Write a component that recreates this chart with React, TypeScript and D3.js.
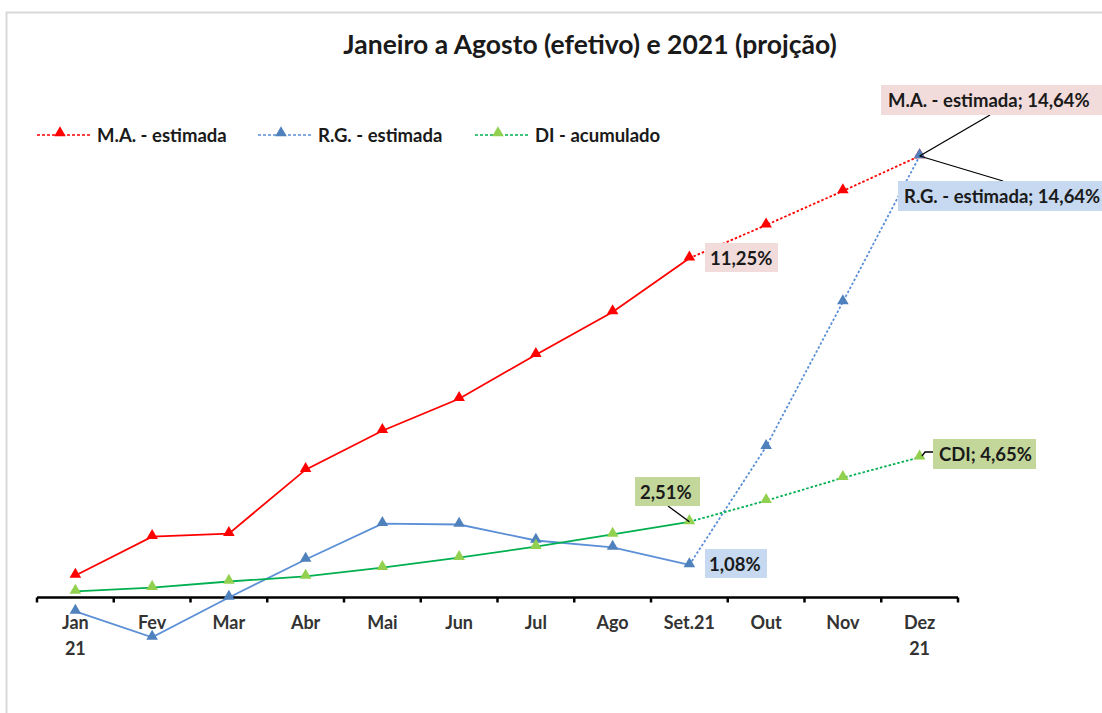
import React from "react";
import * as d3 from "d3";

const months = ["Jan", "Fev", "Mar", "Abr", "Mai", "Jun", "Jul", "Ago", "Set.21", "Out", "Nov", "Dez"];
const monthLine2 = ["21", "", "", "", "", "", "", "", "", "", "", "21"];
const maValues = [0.73, 2.02, 2.12, 4.24, 5.53, 6.59, 8.05, 9.47, 11.25, 12.35, 13.48, 14.64];
const rgValues = [-0.46, -1.32, 0.0, 1.26, 2.45, 2.42, 1.89, 1.66, 1.08, 5.0, 9.8, 14.64];
const diValues = [0.2, 0.33, 0.53, 0.7, 0.99, 1.32, 1.69, 2.09, 2.51, 3.21, 3.97, 4.65];
const actualCount = 9; // Jan..Set.21 solid, then projection dotted
const seriesNames = ["M.A. - estimada", "R.G. - estimada", "DI - acumulado"];
const title = "Janeiro a Agosto (efetivo) e 2021 (projção)";

const FONT = "Lato, 'Open Sans', sans-serif";

export default function App() {
  const W = 1102, H = 713;
  const x = d3.scaleBand<string>().domain(months).range([37, 958]);
  const cx = (i: number) => (x(months[i]) as number) + x.bandwidth() / 2;
  const y = d3.scaleLinear().domain([0, 14.64]).range([597.5, 156]);

  const series = [
    { name: seriesNames[0], values: maValues, line: "#ff0000", marker: "#ff0000" },
    { name: seriesNames[1], values: rgValues, line: "#5b8fd6", marker: "#4f81bd" },
    { name: seriesNames[2], values: diValues, line: "#00b050", marker: "#92d050" },
  ];

  const lineGen = d3.line<[number, number]>().x(d => d[0]).y(d => d[1]);
  const tri = d3.symbol().type(d3.symbolTriangle).size(58)();

  const fmt = (v: number) => v.toFixed(2).replace(".", ",") + "%";

  const pink = "#f2dcdb";
  const blue = "#c6d9f0";
  const green = "#c4d79b";
  const LBL = 18.5;

  const ticks = d3.range(months.length + 1).map(i => 37 + i * x.bandwidth());

  const last = months.length - 1;
  const setI = actualCount - 1;

  return (
    <svg width={W} height={H} style={{ position: "absolute", left: 0, top: 0, background: "#fff" }}>
      <rect x={6.5} y={12.5} width={1110} height={720} fill="#fff" stroke="#d9d9d9" strokeWidth={2} />
      <text x={590} y={54} textAnchor="middle" fontFamily={FONT} fontWeight="bold" fontSize={26.5} fill="#1a1a1a">
        {title}
      </text>

      {/* legend */}
      {series.map((s, i) => {
        const lx = [37, 258, 475][i];
        const tx = [97, 318, 535][i];
        return (
          <g key={s.name}>
            <line x1={lx} x2={lx + 54} y1={135} y2={135} stroke={s.line} strokeWidth={1.5} strokeDasharray="3,2" />
            <path d={tri} transform={`translate(${lx + 23},${133})`} fill={s.marker} />
            <text x={tx} y={141.5} fontFamily={FONT} fontWeight="bold" fontSize={LBL} fill="#1a1a1a">{s.name}</text>
          </g>
        );
      })}

      {/* axis */}
      <line x1={37} x2={958} y1={y(0)} y2={y(0)} stroke="#000" strokeWidth={2.5} />
      {ticks.map((t, i) => (
        <line key={i} x1={t} x2={t} y1={y(0)} y2={y(0) + 5} stroke="#000" strokeWidth={2.5} />
      ))}
      {months.map((m, i) => (
        <text key={m} x={cx(i)} y={629} textAnchor="middle" fontFamily={FONT} fontWeight="bold" fontSize={18} fill="#333">
          <tspan x={cx(i)}>{m}</tspan>
          {monthLine2[i] && <tspan x={cx(i)} dy={26}>{monthLine2[i]}</tspan>}
        </text>
      ))}

      {/* series lines */}
      {series.map(s => {
        const pts: [number, number][] = s.values.map((v, i) => [cx(i), y(v)]);
        return (
          <g key={s.name}>
            <path d={lineGen(pts.slice(0, actualCount)) || ""} fill="none" stroke={s.line} strokeWidth={1.8} />
            <path d={lineGen(pts.slice(actualCount - 1)) || ""} fill="none" stroke={s.line} strokeWidth={1.8} strokeDasharray="2.5,2" />
            {pts.map((p, i) => (
              <path key={i} d={tri} transform={`translate(${p[0]},${p[1] - 1})`} fill={s.marker} />
            ))}
          </g>
        );
      })}

      {/* data labels */}
      {/* M.A. Dez */}
      <line x1={cx(last)} y1={y(maValues[last])} x2={990} y2={115} stroke="#000" strokeWidth={1.3} />
      <rect x={881} y={85} width={222} height={30} fill={pink} />
      <text x={888} y={107} fontFamily={FONT} fontWeight="bold" fontSize={LBL} fill="#1a1a1a">
        {seriesNames[0]}; {fmt(maValues[last])}
      </text>
      {/* R.G. Dez */}
      <line x1={cx(last)} y1={y(rgValues[last])} x2={1003} y2={181} stroke="#000" strokeWidth={1.3} />
      <rect x={898} y={181} width={210} height={30} fill={blue} />
      <text x={904} y={203} fontFamily={FONT} fontWeight="bold" fontSize={LBL} fill="#1a1a1a">
        {seriesNames[1]}; {fmt(rgValues[last])}
      </text>
      {/* M.A. Set */}
      <rect x={705} y={243} width={73} height={29} fill={pink} />
      <text x={710} y={264.5} fontFamily={FONT} fontWeight="bold" fontSize={LBL} fill="#1a1a1a">{fmt(maValues[setI])}</text>
      {/* R.G. Set */}
      <rect x={705} y={549} width={62} height={29} fill={blue} />
      <text x={709} y={570.5} fontFamily={FONT} fontWeight="bold" fontSize={LBL} fill="#1a1a1a">{fmt(rgValues[setI])}</text>
      {/* DI Set */}
      <line x1={668} y1={506} x2={cx(setI)} y2={y(diValues[setI])} stroke="#000" strokeWidth={1.3} />
      <rect x={635} y={477} width={65} height={29} fill={green} />
      <text x={640} y={498.5} fontFamily={FONT} fontWeight="bold" fontSize={LBL} fill="#1a1a1a">{fmt(diValues[setI])}</text>
      {/* CDI Dez */}
      <path d={`M${933},${452}H${925}L${922},${456}`} fill="none" stroke="#000" strokeWidth={1.3} />
      <rect x={933} y={439} width={103} height={30} fill={green} />
      <text x={939} y={461} fontFamily={FONT} fontWeight="bold" fontSize={LBL} fill="#1a1a1a">CDI; {fmt(diValues[last])}</text>
    </svg>
  );
}
